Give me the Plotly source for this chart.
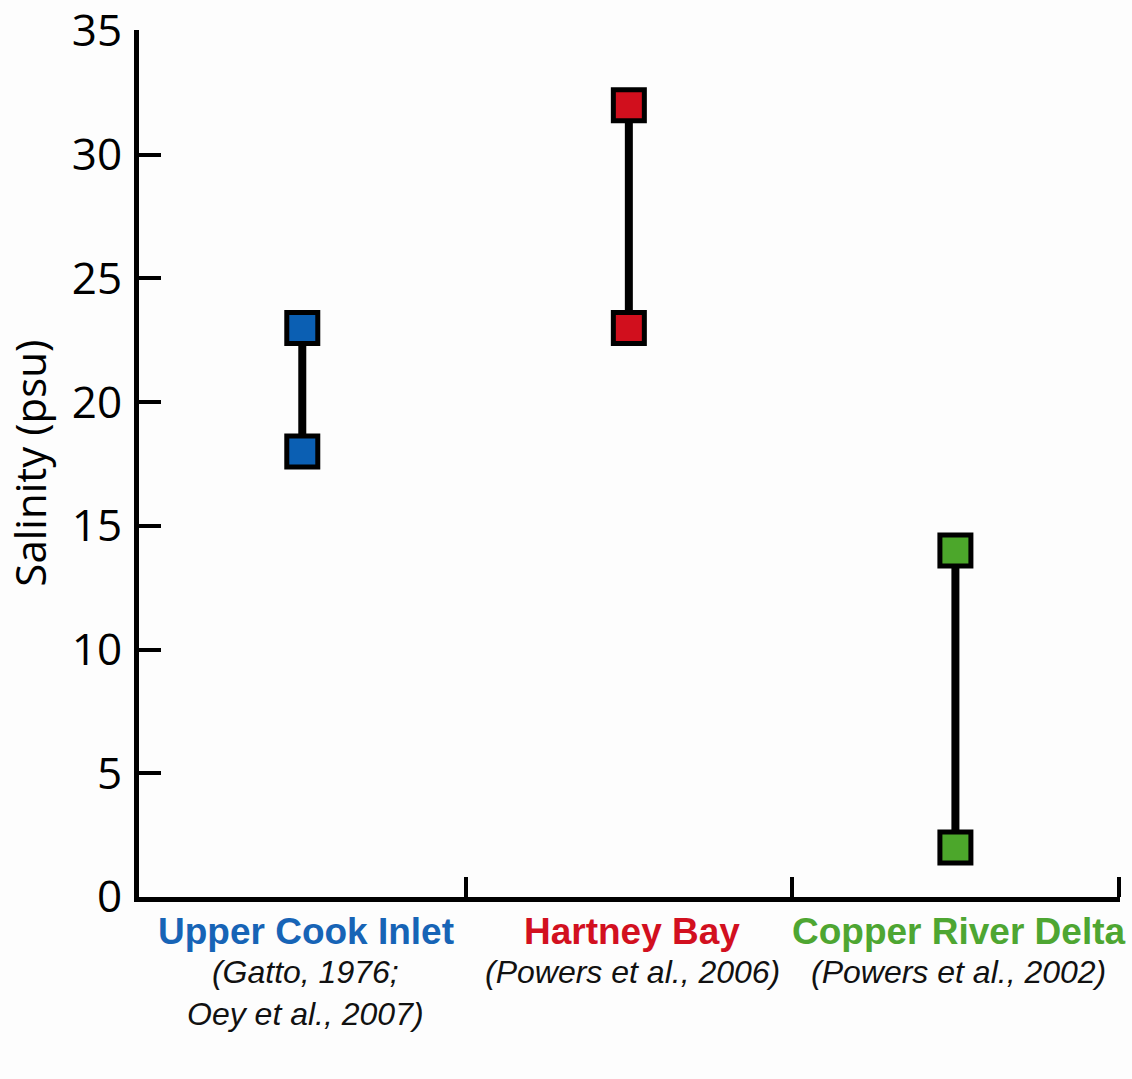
import plotly.graph_objects as go

# Salinity ranges (psu) observed at three Alaskan sites
sites = ["Upper Cook Inlet", "Hartney Bay", "Copper River Delta"]
sources = ["(Gatto, 1976;<br>Oey et al., 2007)", "(Powers et al., 2006)", "(Powers et al., 2002)"]
salinity_low = [18, 23, 2]
salinity_high = [23, 32, 14]
marker_colors = ["#0b5fb3", "#d10f1d", "#4ca72b"]
label_colors = ["#1764b6", "#d2101f", "#4ea632"]
y_ticks = [0, 5, 10, 15, 20, 25, 30, 35]

fig = go.Figure()

for i, site in enumerate(sites):
    xc = i + 0.5
    fig.add_trace(go.Scatter(
        x=[xc, xc],
        y=[salinity_low[i], salinity_high[i]],
        mode="lines+markers",
        line=dict(color="black", width=8),
        marker=dict(symbol="square", size=31, color=marker_colors[i],
                    line=dict(color="black", width=5)),
        cliponaxis=False,
        showlegend=False,
        name=site,
    ))
    # site name and data source below the axis
    fig.add_annotation(
        x=xc + 0.01, y=0, xref="x", yref="y",
        yshift=-34, text="<b>" + site + "</b>", showarrow=False,
        font=dict(family="Liberation Sans, Arial", size=37, color=label_colors[i]),
        xanchor="center", yanchor="middle",
    )
    fig.add_annotation(
        x=xc + 0.01, y=0, xref="x", yref="y",
        yshift=-55, text="<i>" + sources[i] + "</i>", showarrow=False,
        font=dict(family="Liberation Sans, Arial", size=32, color="#111111"),
        xanchor="center", yanchor="top",
        align="center",
    )

fig.add_annotation(
    x=-0.112, y=0.5, xref="paper", yref="paper",
    text="Salinity (psu)", textangle=-90, showarrow=False,
    font=dict(family="Open Sans", size=42, color="black"),
    xanchor="center", yanchor="middle",
)

fig.update_xaxes(
    range=[0, 3.004], tickvals=[1, 2, 3], showticklabels=False,
    ticks="inside", ticklen=20, tickwidth=4, tickcolor="black",
    showline=True, linewidth=5, linecolor="black",
    showgrid=False, zeroline=False,
)
fig.update_yaxes(
    range=[0, 35.04], tickvals=y_ticks,
    ticks="inside", ticklen=22, tickwidth=4, tickcolor="black",
    showline=True, linewidth=5, linecolor="black",
    showgrid=False, zeroline=False,
    tickfont=dict(family="Open Sans", size=44, color="black"),
    ticklabelstandoff=3, ticklabeloverflow="allow",
)

fig.update_layout(
    width=1132, height=1079,
    margin=dict(l=139, r=12, t=30, b=182, autoexpand=False),
    paper_bgcolor="#fdfdfd", plot_bgcolor="#fdfdfd",
)

fig.write_html("out.html")
